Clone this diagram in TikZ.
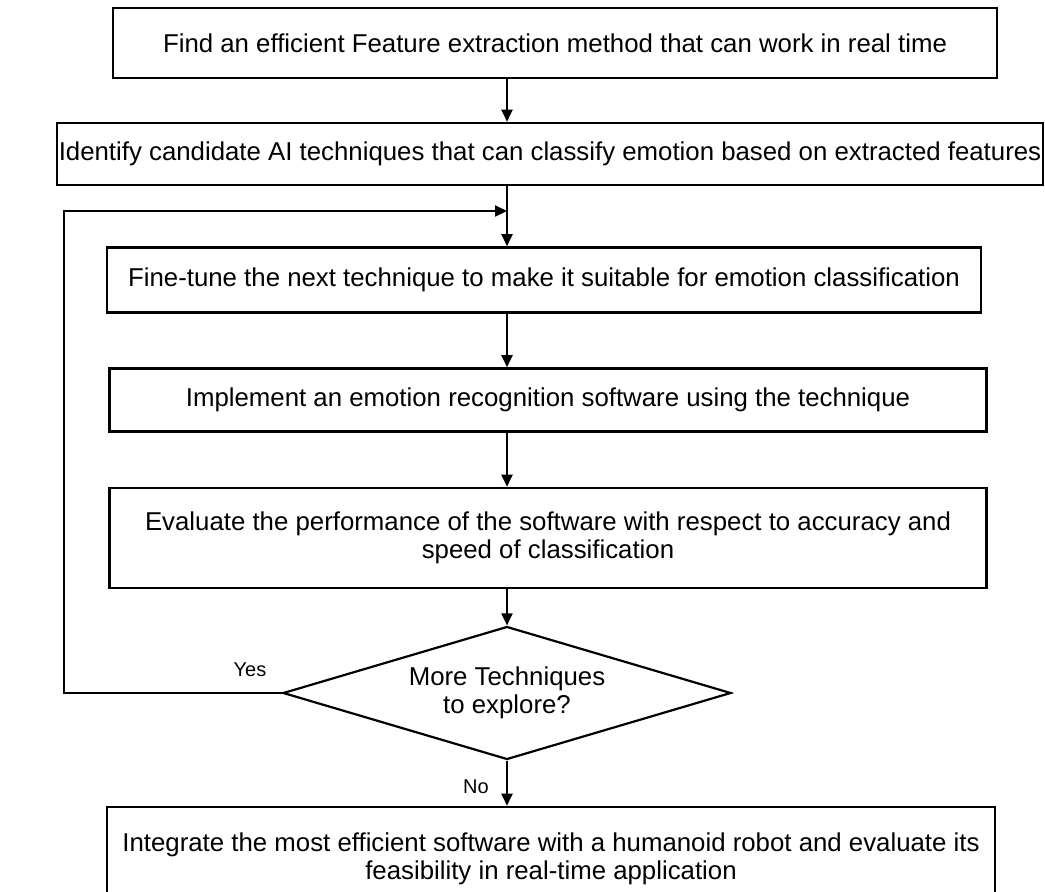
\documentclass[tikz,border=0pt]{standalone}
\usepackage{xcolor}
\usepackage{fontspec}
\setmainfont{Liberation Sans}
\usetikzlibrary{shapes.geometric,arrows.meta}

\tikzset{
  stepbox/.style={draw, rectangle, line width=2.6pt, inner sep=0pt, align=center,
    font=\fontsize{25.8}{28}\selectfont},
  decision/.style={draw, diamond, aspect=3.4, line width=2.2pt, inner sep=0pt, align=center,
    minimum width=448pt, minimum height=133pt, font=\fontsize{25.8}{28}\selectfont},
  flow/.style={-{Triangle[length=12pt,width=11pt]}, line width=2pt},
  answer/.style={font=\fontsize{20}{22}\selectfont}
}

\begin{document}
\begin{tikzpicture}[x=1pt, y=-1pt]
\useasboundingbox (0,0) rectangle (1045,892);
\fill[white] (0,0) rectangle (1045,892);

\coordinate (spine) at (507,0);
\node[stepbox, minimum width=884pt, minimum height=70pt] (find) at (555,43) {Find an efficient Feature extraction method that can work in real time};
\node[stepbox, minimum width=986pt, minimum height=62pt] (identify) at (550,154) {Identify candidate AI techniques that can classify emotion based on extracted features};
\node[stepbox, minimum width=874pt, minimum height=65pt] (finetune) at (544,280) {Fine-tune the next technique to make it suitable for emotion classification};
\node[stepbox, minimum width=877pt, minimum height=63pt] (implement) at (548,400) {Implement an emotion recognition software using the technique};
\node[stepbox, minimum width=877pt, minimum height=100pt] (evaluate) at (548,538) {Evaluate the performance of the software with respect to accuracy and\\speed of classification};
\node[decision] (more) at (507,693) {More Techniques\\to explore?};
\node[stepbox, minimum width=888pt, minimum height=104pt] (integrate) at (551,859) {Integrate the most efficient software with a humanoid robot and evaluate its\\feasibility in real-time application};

\coordinate (loopin) at (507,211);

\draw[flow] (find.south -| spine) -- (identify.north -| spine);
\draw[flow] (identify.south -| spine) -- (finetune.north -| spine);
\draw[flow] (finetune.south -| spine) -- (implement.north -| spine);
\draw[flow] (implement.south -| spine) -- (evaluate.north -| spine);
\draw[flow] (evaluate.south -| spine) -- (more.north);
\draw[flow] (more.south) -- (integrate.north -| spine);
% back to the next technique
\draw[flow] (more.west) -- ++(-218,0) |- (loopin);

\node[answer] (yes) at (250,670) {Yes};
\node[answer] (no) at (476,787) {No};
\end{tikzpicture}
\end{document}
